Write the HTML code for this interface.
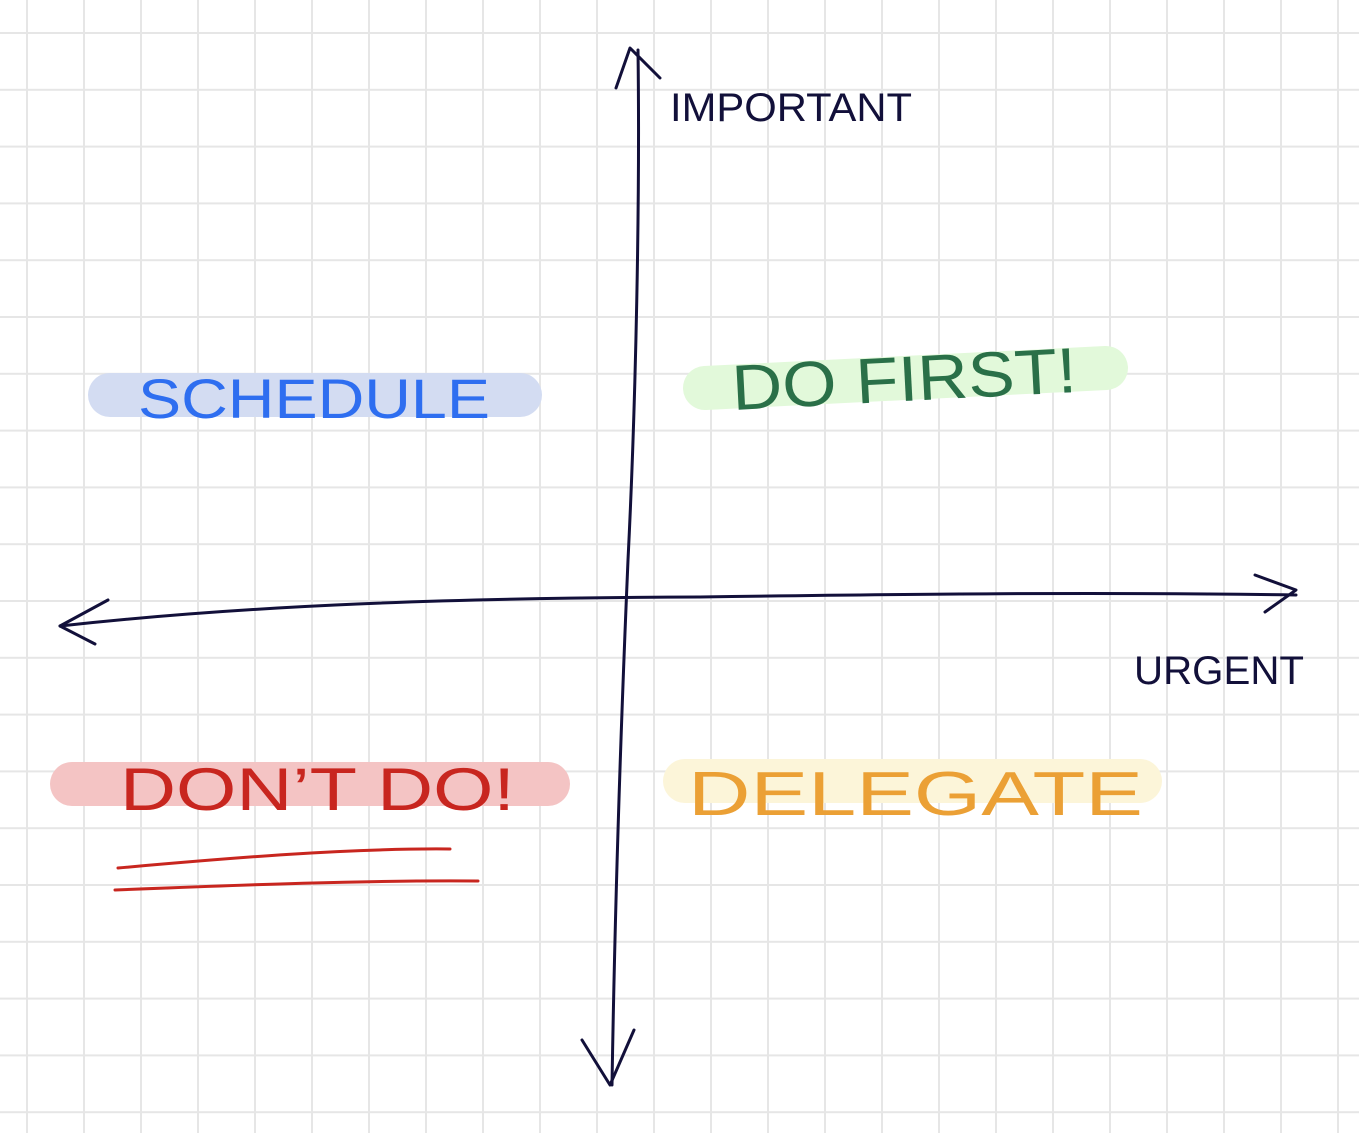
<!DOCTYPE html>
<html><head><style>
html,body{margin:0;padding:0;background:#fff;}
svg{display:block}
text{font-family:"Liberation Sans",sans-serif;}
</style></head><body>
<svg width="1359" height="1133" viewBox="0 0 1359 1133" xmlns="http://www.w3.org/2000/svg">
<defs>
<pattern id="g" x="26" y="32" width="57" height="56.8" patternUnits="userSpaceOnUse">
<path d="M1 0V56.8M0 1H57" stroke="#e6e6e6" stroke-width="2" fill="none"/>
</pattern>
</defs>
<rect width="1359" height="1133" fill="#fff"/>
<rect width="1359" height="1133" fill="url(#g)"/>
<!-- highlights -->
<line x1="110" y1="395" x2="520" y2="395" stroke="#d3dcf2" stroke-width="44" stroke-linecap="round"/>
<line x1="705" y1="388" x2="1106" y2="368" stroke="#e2f9da" stroke-width="44" stroke-linecap="round"/>
<line x1="72" y1="784" x2="548" y2="784" stroke="#f4c4c4" stroke-width="44" stroke-linecap="round"/>
<line x1="685" y1="781" x2="1140" y2="781" stroke="#fcf5d9" stroke-width="44" stroke-linecap="round"/>
<!-- axes -->
<g stroke="#12103a" stroke-width="3" fill="none" stroke-linecap="round" stroke-linejoin="round">
<path d="M638 50 C640 200 636 400 628 560 C622 700 615 900 612 1085"/>
<path d="M616 88 L630 48 L660 78"/>
<path d="M582 1040 L610 1085 L634 1030"/>
<path d="M60 626 C250 605 450 598 700 597 C900 594 1100 592 1296 595"/>
<path d="M108 600 L60 626 L95 644"/>
<path d="M1255 575 L1296 590 L1265 612"/>
</g>
<text x="670" y="121" font-size="40" fill="#12103a" textLength="242" lengthAdjust="spacingAndGlyphs">IMPORTANT</text>
<text x="1134" y="684" font-size="40" fill="#12103a" textLength="170" lengthAdjust="spacingAndGlyphs">URGENT</text>
<text x="138" y="418" font-size="56" fill="#2e6ef0" textLength="352" lengthAdjust="spacingAndGlyphs">SCHEDULE</text>
<text x="733" y="410" font-size="64" fill="#2a7048" textLength="345" lengthAdjust="spacingAndGlyphs" transform="rotate(-3 733 410)">DO FIRST!</text>
<text x="120" y="810" font-size="60" fill="#c8261f" textLength="395" lengthAdjust="spacingAndGlyphs">DON’T DO!</text>
<text x="688" y="815" font-size="62" fill="#eba035" textLength="455" lengthAdjust="spacingAndGlyphs">DELEGATE</text>
<g stroke="#c8261f" stroke-width="3" fill="none" stroke-linecap="round">
<path d="M118 868 C230 858 350 848 450 849"/>
<path d="M115 890 C240 885 370 880 478 881"/>
</g>
</svg>
</body></html>
